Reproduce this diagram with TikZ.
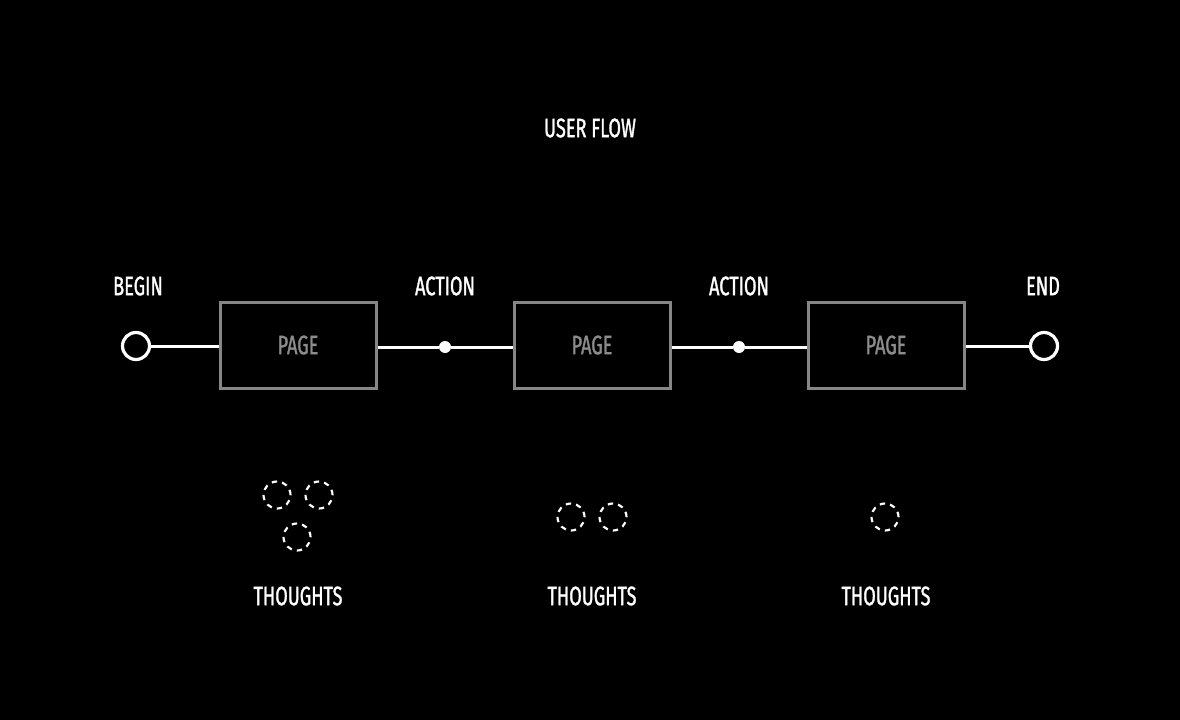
\documentclass[tikz,border=0pt]{standalone}
\usepackage{fontspec}
\setmainfont{Fira Sans}[FakeStretch=0.68,FakeBold=1.2]
\begin{document}
\begin{tikzpicture}[x=0.75pt,y=-0.75pt,
  lbl/.style={text=white,font=\fontsize{20}{22}\selectfont,inner sep=0pt},
  pagebox/.style={draw=gray!95!white,line width=2.25pt,minimum width=156*0.75pt,minimum height=86*0.75pt,inner sep=0pt,text=gray!90!white,font=\fontsize{20}{22}\selectfont},
  endpt/.style={circle,draw=white,line width=2.4pt,fill=black,minimum size=27*0.75pt,inner sep=0pt},
  actdot/.style={circle,fill=white,minimum size=12*0.75pt,inner sep=0pt},
  thought/.style={circle,draw=white,line width=1.6pt,dash pattern=on 4pt off 3.9pt,minimum size=27*0.75pt,inner sep=0pt},
  link/.style={draw=white,line width=2.25pt}]
\fill[black] (0,0) rectangle (1180,720);
\useasboundingbox (0,0) rectangle (1180,720);
\node[lbl] (title) at (590,128) {USER FLOW};
\node[endpt] (begin) at (136,346) {};
\node[pagebox] (p1) at (298,345) {PAGE};
\node[actdot] (a1) at (445,347) {};
\node[pagebox] (p2) at (592,345) {PAGE};
\node[actdot] (a2) at (739,347) {};
\node[pagebox] (p3) at (886,345) {PAGE};
\node[endpt] (end) at (1044,346) {};
\draw[link] (begin) -- (p1.west |- begin);
\draw[link] (p1.east |- a1) -- (a1) -- (p2.west |- a1);
\draw[link] (p2.east |- a2) -- (a2) -- (p3.west |- a2);
\draw[link] (p3.east |- end) -- (end);
\node[lbl] (lbegin) at (138,286) {BEGIN};
\node[lbl] (la1) at (445,286) {ACTION};
\node[lbl] (la2) at (739,286) {ACTION};
\node[lbl] (lend) at (1043,286) {END};
\node[thought] (t1a) at (277,495) {};
\node[thought] (t1b) at (319,495) {};
\node[thought] (t1c) at (297,537) {};
\node[thought] (t2a) at (571,517) {};
\node[thought] (t2b) at (613,517) {};
\node[thought] (t3a) at (885,517) {};
\node[lbl] (th1) at (298,596) {THOUGHTS};
\node[lbl] (th2) at (592,596) {THOUGHTS};
\node[lbl] (th3) at (886,596) {THOUGHTS};
\end{tikzpicture}
\end{document}
